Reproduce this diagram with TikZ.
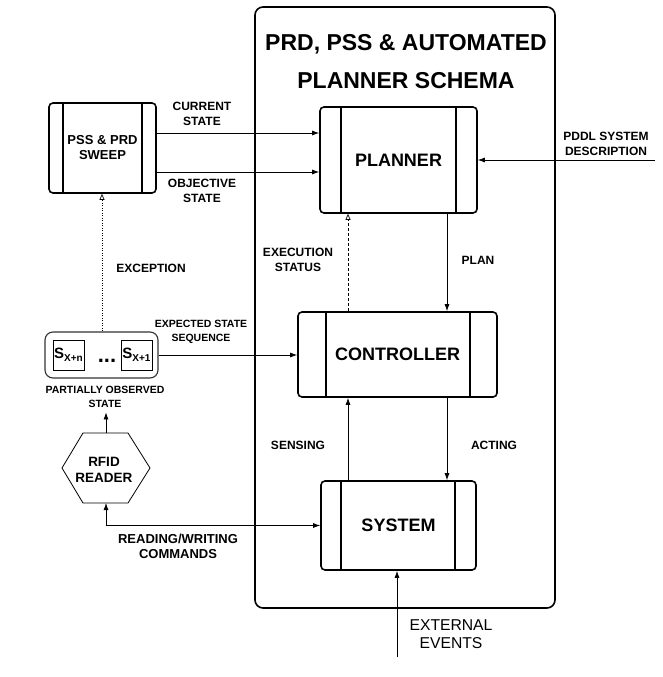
\documentclass[tikz,border=0pt]{standalone}
\usepackage{fontspec}
\setmainfont{Liberation Sans}
\usetikzlibrary{arrows.meta}

\tikzset{
  bigbox/.style={draw, line width=1.6pt, rounded corners=4pt, inner sep=0pt,
    font=\bfseries\fontsize{18}{20}\selectfont},
  sidebar/.style={line width=1.6pt},
  lbl/.style={font=\bfseries\fontsize{12}{15}\selectfont, align=center, inner sep=0pt},
  smalllbl/.style={font=\bfseries\fontsize{10.5}{14}\selectfont, align=center, inner sep=0pt},
  arr/.style={line width=0.8pt, -{Latex[length=7pt,width=5pt]}},
  dblarr/.style={line width=0.8pt, {Latex[length=7pt,width=5pt]}-{Latex[length=7pt,width=5pt]}},
  openarr/.style={line width=0.7pt, -{Triangle[open,length=6pt,width=5pt]}},
  sq/.style={draw, line width=1pt, minimum width=31pt, minimum height=30pt, inner sep=0pt, font=\bfseries},
}

\begin{document}
\begin{tikzpicture}[x=1pt,y=-1pt]
\useasboundingbox (0,0) rectangle (663,677);

% container
\node[draw, line width=1.6pt, rounded corners=8pt, minimum width=300pt, minimum height=601pt, inner sep=0pt] (frame) at (405,307.5) {};
\node[font=\bfseries\fontsize{23}{38}\selectfont, align=center, inner sep=0pt] (title) at (406,62) {PRD, PSS \& AUTOMATED\\PLANNER SCHEMA};

% main boxes
\node[bigbox, minimum width=157pt, minimum height=106pt] (planner) at (398.5,160) {PLANNER};
\draw[sidebar] ([xshift=22pt]planner.north west) -- ([xshift=22pt]planner.south west);
\draw[sidebar] ([xshift=-22pt]planner.north east) -- ([xshift=-22pt]planner.south east);

\node[bigbox, minimum width=199pt, minimum height=85pt] (controller) at (397.5,354.5) {CONTROLLER};
\draw[sidebar] ([xshift=29pt]controller.north west) -- ([xshift=29pt]controller.south west);
\draw[sidebar] ([xshift=-28pt]controller.north east) -- ([xshift=-28pt]controller.south east);

\node[bigbox, minimum width=155pt, minimum height=89pt] (system) at (398.5,525.5) {SYSTEM};
\draw[sidebar] ([xshift=21pt]system.north west) -- ([xshift=21pt]system.south west);
\draw[sidebar] ([xshift=-22pt]system.north east) -- ([xshift=-22pt]system.south east);

\node[bigbox, minimum width=107pt, minimum height=90pt, font=\bfseries\fontsize{13}{15}\selectfont, align=center] (sweep) at (102.5,148) {PSS \& PRD\\SWEEP};
\draw[sidebar] ([xshift=15pt]sweep.north west) -- ([xshift=15pt]sweep.south west);
\draw[sidebar] ([xshift=-15pt]sweep.north east) -- ([xshift=-15pt]sweep.south east);

% partially observed state
\node[draw=black!80, line width=1.1pt, rounded corners=8pt, minimum width=113pt, minimum height=46pt, inner sep=0pt] (pobs) at (101.5,355) {};
\node[sq] (sxn) at (68.5,355) {{\fontsize{15}{15}\selectfont S}\raisebox{-3pt}{\fontsize{10}{10}\selectfont X+n}};
\node[sq] (sx1) at (136.5,355) {{\fontsize{15}{15}\selectfont S}\raisebox{-3pt}{\fontsize{10}{10}\selectfont X+1}};
\node[inner sep=0pt, font=\bfseries\fontsize{22}{22}\selectfont] (dots) at (107,361) {...};
\node[smalllbl] (pobslbl) at (105,396.5) {PARTIALLY OBSERVED\\STATE};

% RFID reader hexagon
\draw[line width=0.8pt] (62,468) -- (83,433) -- (128,433) -- (150,468) -- (128,503) -- (83,503) -- cycle;
\node[font=\bfseries\fontsize{13.5}{16}\selectfont, align=center, inner sep=0pt] (rfid) at (104,470) {RFID\\READER};
\coordinate (rfidtop) at (106,433);
\coordinate (rfidbot) at (106,503);

% free ends
\coordinate (pddl) at (655,160);
\coordinate (ext) at (397,657);

% connectors
\draw[arr] (sweep.east |- 0,133) -- (planner.west |- 0,133);
\draw[arr] (sweep.east |- 0,172) -- (planner.west |- 0,172);
\draw[arr] (pddl) -- (planner.east);
\draw[arr] (planner.south -| 447,0) -- (controller.north -| 447,0);
\draw[openarr, dash pattern=on 3pt off 2pt] (controller.north -| 348,0) -- (planner.south -| 348,0);
\draw[arr] (system.north -| 348,0) -- (controller.south -| 348,0);
\draw[arr] (controller.south -| 447,0) -- (system.north -| 447,0);
\draw[arr] (ext) -- (system.south -| ext);
\draw[arr] (pobs.east) -- (controller.west |- pobs.east);
\draw[openarr, dash pattern=on 1pt off 1.5pt] (pobs.north -| 102,0) -- (sweep.south -| 102,0);
\draw[arr, shorten >=5pt] (rfidtop) -- (pobslbl.south -| rfidtop);
\draw[dblarr] (rfidbot) |- (system.west);

% labels
\node[lbl] (lcur) at (202,113.5) {CURRENT\\STATE};
\node[lbl] (lobj) at (202,191) {OBJECTIVE\\STATE};
\node[lbl] (lpddl) at (606,143.5) {PDDL SYSTEM\\DESCRIPTION};
\node[lbl] (lplan) at (478,260) {PLAN};
\node[lbl] (lexec) at (298,259.5) {EXECUTION\\STATUS};
\node[lbl] (lexc) at (151,268) {EXCEPTION};
\node[smalllbl] (lexp) at (201,332) {EXPECTED STATE\\SEQUENCE};
\node[lbl] (lsens) at (298,445) {SENSING};
\node[lbl] (lact) at (494,445) {ACTING};
\node[lbl, font=\bfseries\fontsize{13}{15}\selectfont] (lrw) at (178,546.5) {READING/WRITING\\COMMANDS};
\node[font=\fontsize{15.7}{18}\selectfont, align=center, inner sep=0pt] (lext) at (451,634) {EXTERNAL\\EVENTS};
\end{tikzpicture}
\end{document}
